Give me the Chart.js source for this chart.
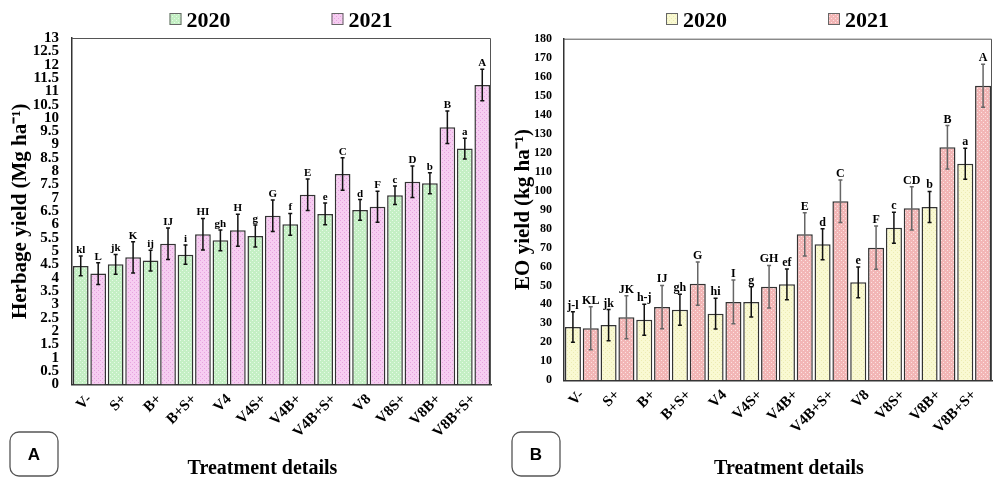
<!DOCTYPE html>
<html>
<head>
<meta charset="utf-8">
<script src="https://cdn.jsdelivr.net/npm/chart.js@4.4.1/dist/chart.umd.min.js"></script>
<style>
  html, body { margin: 0; padding: 0; background: #fff; }
  #wrap { position: relative; width: 993px; height: 479px; overflow: hidden; }
  .panel { position: absolute; top: 0; height: 479px; }
</style>
</head>
<body>
<div id="wrap">
  <div class="panel" style="left:0;width:497px"><canvas id="herb" width="497" height="479"></canvas></div>
  <div class="panel" style="left:497px;width:496px"><canvas id="eo" width="496" height="479"></canvas></div>
</div>
<script>
// Treatments (shared by both panels)
const treatments = ['V-', 'S+', 'B+', 'B+S+', 'V4', 'V4S+', 'V4B+', 'V4B+S+', 'V8', 'V8S+', 'V8B+', 'V8B+S+'];
const years = ['2020', '2021'];

// Panel A: herbage yield (Mg ha-1), mean ± SE, with significance letters
const herb2020 = [4.45, 4.51, 4.65, 4.87, 5.41, 5.57, 6.01, 6.40, 6.55, 7.10, 7.55, 8.85];
const herb2021 = [4.16, 4.77, 5.28, 5.64, 5.79, 6.33, 7.12, 7.90, 6.67, 7.61, 9.65, 11.24];
const herbErr2020 = [0.37, 0.37, 0.39, 0.36, 0.39, 0.41, 0.41, 0.41, 0.39, 0.35, 0.39, 0.39];
const herbErr2021 = [0.41, 0.59, 0.59, 0.59, 0.60, 0.59, 0.59, 0.61, 0.58, 0.59, 0.61, 0.59];
const herbLetters2020 = ['kl', 'jk', 'ij', 'i', 'gh', 'g', 'f', 'e', 'd', 'c', 'b', 'a'];
const herbLetters2021 = ['L', 'K', 'IJ', 'HI', 'H', 'G', 'E', 'C', 'F', 'D', 'B', 'A'];

// Panel B: essential oil yield (kg ha-1)
const eo2020 = [28.1, 29.1, 31.9, 37.2, 35.1, 41.3, 50.6, 71.7, 51.6, 80.4, 91.3, 114.1];
const eo2021 = [27.4, 33.2, 38.6, 50.9, 41.3, 49.3, 76.9, 94.3, 69.9, 90.6, 122.8, 155.2];
const eoErr2020 = [8.0, 8.2, 8.2, 8.2, 8.1, 8.0, 8.1, 8.2, 8.1, 8.2, 8.2, 8.2];
const eoErr2021 = [11.3, 11.3, 11.4, 11.4, 11.5, 11.2, 11.4, 11.2, 11.4, 11.4, 11.4, 11.3];
const eoLetters2020 = ['j-l', 'jk', 'h-j', 'gh', 'hi', 'g', 'ef', 'd', 'e', 'c', 'b', 'a'];
const eoLetters2021 = ['KL', 'JK', 'IJ', 'G', 'I', 'GH', 'E', 'C', 'F', 'CD', 'B', 'A'];

const SERIF = "'Liberation Serif', 'Times New Roman', serif";
const SANS = "'Liberation Sans', Arial, sans-serif";

// Fine dotted fill used for the bars
function dotPattern(ctx, bg, dot) {
  const c = document.createElement('canvas');
  c.width = 4; c.height = 4;
  const g = c.getContext('2d');
  g.fillStyle = bg; g.fillRect(0, 0, 4, 4);
  g.fillStyle = dot;
  g.fillRect(0, 0, 1, 1); g.fillRect(2, 2, 1, 1);
  return ctx.createPattern(c, 'repeat');
}

// Error bars and letter labels above each bar
const errorBars = {
  id: 'errorBars',
  afterDatasetsDraw(chart, args, opts) {
    const { ctx } = chart;
    const y = chart.scales.y;
    chart.data.datasets.forEach((ds, i) => {
      const meta = chart.getDatasetMeta(i);
      meta.data.forEach((bar, j) => {
        const v = ds.data[j], e = ds.errors[j];
        const top = y.getPixelForValue(v + e);
        const bot = y.getPixelForValue(v - e);
        ctx.save();
        ctx.strokeStyle = ds.errorColor;
        ctx.lineWidth = 1.5;
        ctx.beginPath();
        ctx.moveTo(bar.x, top); ctx.lineTo(bar.x, bot);
        ctx.moveTo(bar.x - 2, top); ctx.lineTo(bar.x + 2, top);
        ctx.moveTo(bar.x - 2, bot); ctx.lineTo(bar.x + 2, bot);
        ctx.stroke();
        ctx.fillStyle = '#000';
        ctx.font = `bold ${opts.letterSize}px ${SERIF}`;
        ctx.textAlign = 'center';
        ctx.textBaseline = 'alphabetic';
        ctx.fillText(ds.letters[j], bar.x, top - 3);
        ctx.restore();
      });
    });
  }
};

// Plot frame, legend, x-axis title and panel tag
const decor = {
  id: 'decor',
  afterDraw(chart, args, o) {
    const { ctx, chartArea: a } = chart;
    ctx.save();
    ctx.strokeStyle = '#555';
    ctx.lineWidth = 1;
    ctx.beginPath();
    ctx.moveTo(a.left, a.top + 0.5);
    ctx.lineTo(a.right - 0.5, a.top + 0.5);
    ctx.lineTo(a.right - 0.5, a.bottom);
    ctx.stroke();

    const cx = (a.left + a.right) / 2;
    ctx.font = `bold 22px ${SERIF}`;
    ctx.textAlign = 'left';
    ctx.textBaseline = 'alphabetic';
    chart.data.datasets.forEach((ds, i) => {
      const bx = cx + o.legendOffsets[i];
      ctx.fillStyle = ds.backgroundColor;
      ctx.fillRect(bx, 13, 12, 12);
      ctx.strokeStyle = '#666';
      ctx.strokeRect(bx + 0.5, 13.5, 11, 11);
      ctx.fillStyle = '#000';
      ctx.fillText(ds.label, bx + 17, 26.5);
    });

    ctx.font = `bold 20px ${SERIF}`;
    ctx.textAlign = 'center';
    ctx.fillText(o.xTitle, cx + o.xTitleShift, 474);

    const t = o.tag;
    ctx.strokeStyle = '#555';
    ctx.lineWidth = 1.3;
    ctx.beginPath();
    ctx.roundRect(t.x, 432, 48, 44, 9);
    ctx.stroke();
    ctx.fillStyle = '#000';
    ctx.font = `bold 17px ${SANS}`;
    ctx.textBaseline = 'middle';
    ctx.fillText(t.text, t.x + 24, 455);
    ctx.restore();
  }
};

function buildChart(id, cfg) {
  const canvas = document.getElementById(id);
  const ctx = canvas.getContext('2d');
  return new Chart(ctx, {
    type: 'bar',
    data: {
      labels: treatments,
      datasets: [
        {
          label: years[0], data: cfg.a, errors: cfg.aErr, letters: cfg.aLet,
          errorColor: '#111',
          backgroundColor: dotPattern(ctx, cfg.aBg, cfg.aDot),
          borderColor: '#333', borderWidth: 1.5,
          categoryPercentage: 1, barPercentage: 0.9
        },
        {
          label: years[1], data: cfg.b, errors: cfg.bErr, letters: cfg.bLet,
          errorColor: cfg.bErrColor,
          backgroundColor: dotPattern(ctx, cfg.bBg, cfg.bDot),
          borderColor: '#333', borderWidth: 1.5,
          categoryPercentage: 1, barPercentage: 0.9
        }
      ]
    },
    options: {
      responsive: false,
      animation: false,
      events: [],
      layout: { padding: { top: cfg.top, right: cfg.right, left: 0, bottom: 0 } },
      plugins: {
        legend: { display: false },
        tooltip: { enabled: false },
        errorBars: { letterSize: cfg.letterSize },
        decor: { legendOffsets: [-112, 50], xTitle: 'Treatment details', xTitleShift: cfg.xTitleShift, tag: cfg.tag }
      },
      scales: {
        x: {
          grid: { display: false, drawTicks: false },
          border: { color: '#333', width: 1.5 },
          ticks: {
            color: '#000', minRotation: 45, maxRotation: 45, autoSkip: false, padding: 6,
            font: { family: SERIF, size: 15, weight: 'bold' }
          },
          afterFit(s) { s.height = cfg.xHeight; }
        },
        y: {
          min: 0, max: cfg.max,
          grid: { display: false, drawTicks: false },
          border: { color: '#333', width: 1.5 },
          ticks: {
            stepSize: cfg.step, autoSkip: false, color: '#000', padding: cfg.tickPad,
            font: { family: SERIF, size: cfg.tickSize, weight: 'bold' },
            callback: v => String(v)
          },
          title: {
            display: true, text: cfg.yTitle, color: '#000',
            font: { family: SERIF, size: 21, weight: 'bold' },
            padding: { top: cfg.yTitlePad, bottom: 0 }
          },
          afterFit(s) { s.width = cfg.yWidth; }
        }
      }
    },
    plugins: [errorBars, decor]
  });
}

buildChart('herb', {
  a: herb2020, aErr: herbErr2020, aLet: herbLetters2020,
  b: herb2021, bErr: herbErr2021, bLet: herbLetters2021,
  aBg: '#c4efc4', aDot: '#e6fae6', bBg: '#f6cdf1', bDot: '#e6a3df', bErrColor: '#111',
  max: 13, step: 0.5, tickSize: 15, tickPad: 13,
  yTitle: 'Herbage yield (Mg ha\u207B\u00B9)', yTitlePad: 8, yWidth: 72,
  top: 38, right: 6, xHeight: 94.5, letterSize: 11,
  xTitleShift: -19, tag: { x: 10, text: 'A' }
});

buildChart('eo', {
  a: eo2020, aErr: eoErr2020, aLet: eoLetters2020,
  b: eo2021, bErr: eoErr2021, bLet: eoLetters2021,
  aBg: '#f9f9d2', aDot: '#ecebb2', bBg: '#f2b6b6', bDot: '#fde2e2', bErrColor: '#666',
  max: 180, step: 10, tickSize: 12, tickPad: 12,
  yTitle: 'EO yield (kg ha\u207B\u00B9)', yTitlePad: 14, yWidth: 67,
  top: 38.7, right: 1, xHeight: 98.7, letterSize: 12,
  xTitleShift: 11, tag: { x: 15, text: 'B' }
});
</script>
</body>
</html>
